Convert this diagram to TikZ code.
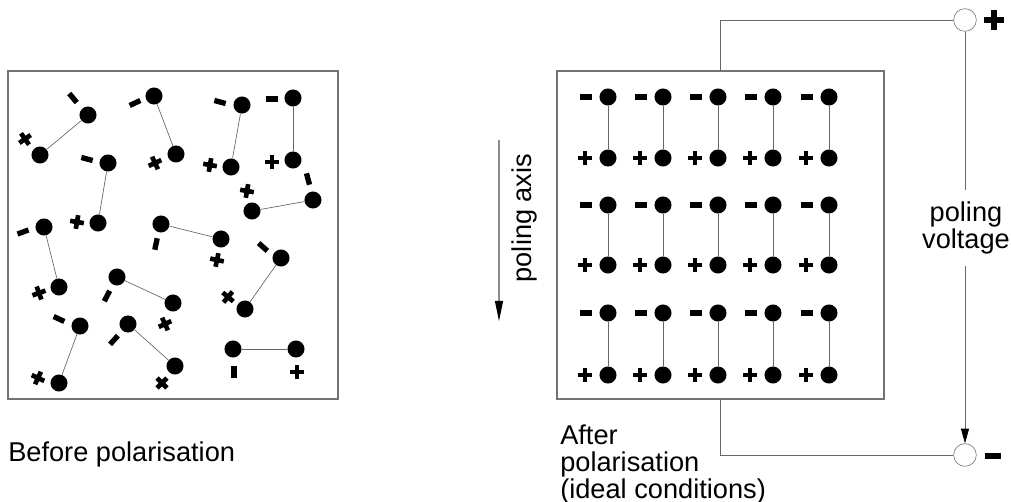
\documentclass[tikz,border=0pt]{standalone}
\usepackage{fontspec}
\setmainfont{Liberation Sans}
\usetikzlibrary{arrows.meta}

\begin{document}
\begin{tikzpicture}[
    x=0.75pt, y=-0.75pt,
    dot/.style={circle, fill=black, inner sep=0pt, minimum size=12.8pt},
    bond/.style={draw=black!60, line width=0.5pt},
    frame/.style={draw=black!55, line width=0.8pt, inner sep=0pt},
    wire/.style={draw=black!60, line width=0.6pt},
    term/.style={circle, draw=black!50, line width=0.5pt, inner sep=0pt, minimum size=17pt},
    lab/.style={font=\fontsize{20.4}{19.9}\selectfont, inner sep=0pt},
    pics/pos/.style={code={\draw[line width=3.5pt] (-5.2pt,0) -- (5.2pt,0) (0,-5.2pt) -- (0,5.2pt);}},
    pics/neg/.style={code={\draw[line width=4pt] (-4.4pt,0) -- (4.4pt,0);}},
    pics/bigpos/.style={code={\draw[line width=4.1pt] (-7.4pt,0) -- (7.4pt,0) (0,-7.4pt) -- (0,7.4pt);}},
    pics/bigneg/.style={code={\draw[line width=4.6pt] (-6pt,0) -- (6pt,0);}}
]
\useasboundingbox (0,0) rectangle (1011,502);

% before polarisation
\node[frame, minimum width=247.5pt, minimum height=246pt] (before) at (173,235) {};

\node[dot] (n1) at (88,115) {};   \node[dot] (p1) at (40,155) {};
\node[dot] (n2) at (154,96) {};   \node[dot] (p2) at (176,154) {};
\node[dot] (n3) at (242,105) {};  \node[dot] (p3) at (231,167) {};
\node[dot] (n4) at (293,98) {};   \node[dot] (p4) at (293,160) {};
\node[dot] (n5) at (108,163) {};  \node[dot] (p5) at (98,223) {};
\node[dot] (n6) at (313,200) {};  \node[dot] (p6) at (252,211) {};
\node[dot] (n7) at (44,227) {};   \node[dot] (p7) at (59,287) {};
\node[dot] (n8) at (161,224) {};  \node[dot] (p8) at (221,239) {};
\node[dot] (n9) at (281,258) {};  \node[dot] (p9) at (245,309) {};
\node[dot] (n10) at (117,277) {}; \node[dot] (p10) at (173,303) {};
\node[dot] (n11) at (80,326) {};  \node[dot] (p11) at (59,383) {};
\node[dot] (n12) at (128,324) {}; \node[dot] (p12) at (175,366) {};
\node[dot] (n13) at (233,349) {}; \node[dot] (p13) at (296,349) {};

\foreach \i in {1,...,13} {
    \draw[bond] (n\i) -- (p\i);
}

\pic[rotate=-50] at (73,98) {neg};   \pic[rotate=35] at (25,139) {pos};
\pic[rotate=25] at (135,103) {neg};  \pic[rotate=25] at (155,163) {pos};
\pic[rotate=-15] at (220,102) {neg}; \pic[rotate=-10] at (210,165) {pos};
\pic at (272,99) {neg};              \pic at (272,162) {pos};
\pic[rotate=-15] at (87,159) {neg};  \pic[rotate=-10] at (77,222) {pos};
\pic[rotate=-75] at (308,179) {neg}; \pic[rotate=-10] at (247,191) {pos};
\pic[rotate=20] at (23,232) {neg};   \pic[rotate=20] at (39,293) {pos};
\pic[rotate=78] at (156,244) {neg};  \pic[rotate=-12] at (217,260) {pos};
\pic[rotate=-42] at (263,247) {neg}; \pic[rotate=-40] at (228,297) {pos};
\pic[rotate=63] at (107,296) {neg};  \pic[rotate=25] at (165,324) {pos};
\pic[rotate=-25] at (59,319) {neg};  \pic[rotate=-25] at (38,378) {pos};
\pic[rotate=48] at (114,340) {neg};  \pic[rotate=45] at (162,383) {pos};
\pic[rotate=90] at (234,372) {neg};  \pic at (297,372) {pos};

\node[lab, anchor=base west] (beforelab) at (8,461) {Before polarisation};

% after polarisation
\node[frame, minimum width=245.25pt, minimum height=246pt] (after) at (720.5,235) {};

\foreach \c [count=\i] in {608,663,718,773,829} {
    \foreach \t/\b [count=\j] in {97/158,205/265,313/375} {
        \node[dot] (u\i\j) at (\c,\t) {};
        \node[dot] (d\i\j) at (\c,\b) {};
        \draw[bond] (u\i\j) -- (d\i\j);
        \pic at (\c-22,\t) {neg};
        \pic at (\c-23,\b) {pos};
    }
}

\node[lab, anchor=north west, align=left] (afterlab) at (560,425) {After\\polarisation\\(ideal conditions)};

% poling axis
\coordinate (axtop) at (499,140);
\coordinate (axbot) at (499,321);
\draw[draw=black!45, line width=0.8pt, -{Triangle[length=15pt,width=6pt,color=black]}] (axtop) -- (axbot);
\node[lab, rotate=90] (axislab) at (524,218) {poling axis};

% poling voltage
\node[term] (tplus) at (965,20) {};
\node[term] (tminus) at (965,455) {};
\pic at (994,20) {bigpos};
\pic at (993,456) {bigneg};
\node[lab, align=center, inner ysep=9pt] (volt) at (966,228) {poling\\voltage};

\draw[wire] (after.north) |- (tplus.west);
\draw[wire] (after.south) |- (tminus.west);
\draw[wire] (tplus.south) -- (tplus |- volt.north);
\draw[wire, -{Triangle[length=11pt,width=6pt,color=black]}] (tminus |- volt.south) -- (tminus.north);
\end{tikzpicture}
\end{document}
